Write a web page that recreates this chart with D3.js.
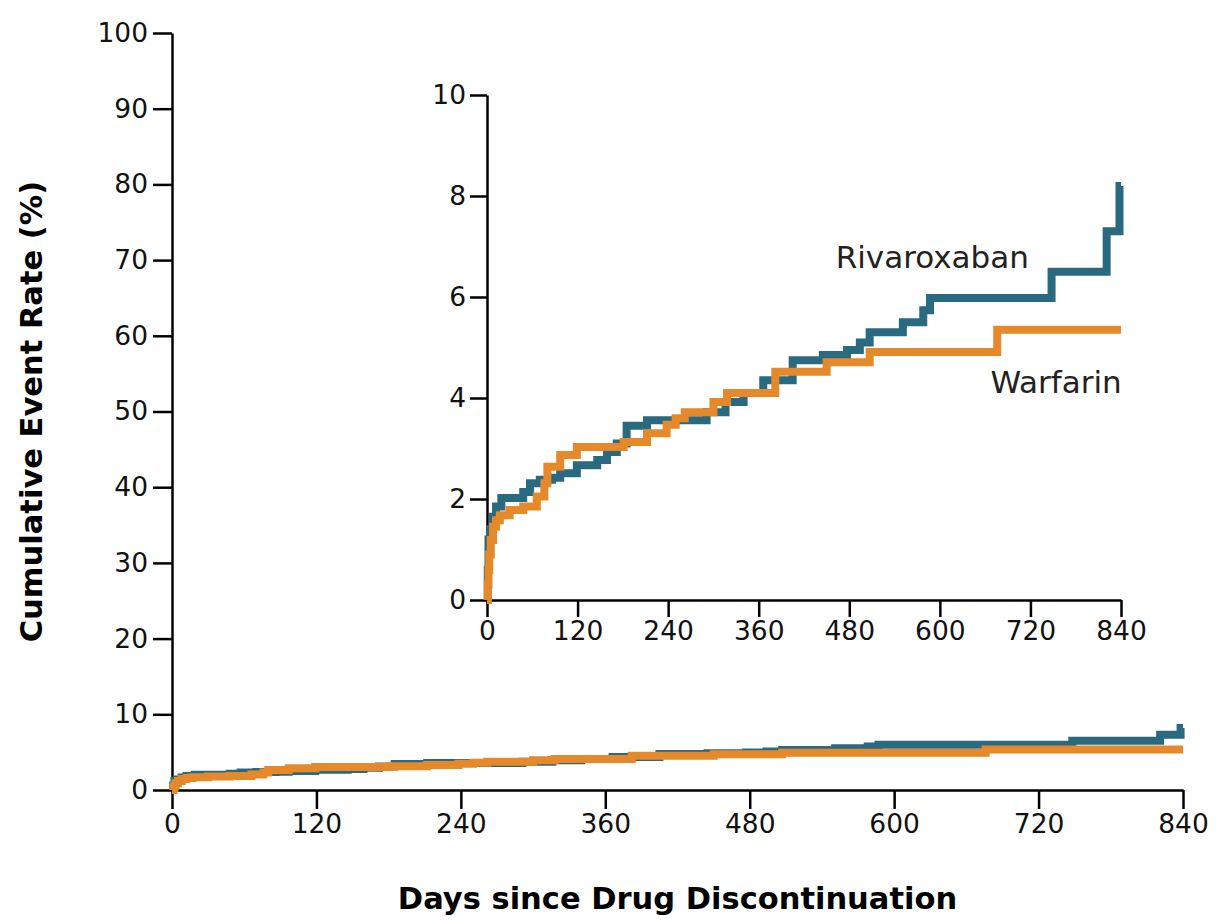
<!DOCTYPE html>
<html>
  <head>
    <meta charset="utf-8" />
    <title>Cumulative Event Rate after Drug Discontinuation</title>
    <style>
      body { margin: 0; background: #fff; }
      .axis path, .axis line { stroke: #000; stroke-width: 2.5px; }
      .axis text { font-family: "DejaVu Sans", sans-serif; font-size: 26.5px; fill: #111; }
      .curve { fill: none; stroke-width: 8px; }
      .title { font-family: "DejaVu Sans", sans-serif; font-weight: bold; font-size: 30.5px; fill: #000; }
      .label { font-family: "DejaVu Sans", sans-serif; font-size: 31px; fill: #222; }
    </style>
  </head>
  <body>
    <svg id="chart" width="1216" height="920"></svg>
    <script src="https://d3js.org/d3.v7.min.js"></script>
    <script>
      // Kaplan-Meier style step data (day of change, cumulative %)
      var rivaroxabanDays = [0, 1, 2, 4, 8, 12, 19, 48, 57, 70, 86, 97, 119, 146, 159, 172, 185, 212, 291, 316, 340, 366, 405, 445, 477, 494, 507, 551, 578, 587, 748, 821, 838, 840];
      var rivaroxabanRate = [0, 0.6, 1.2, 1.4, 1.65, 1.85, 2.02, 2.14, 2.31, 2.38, 2.42, 2.51, 2.67, 2.77, 2.93, 3.1, 3.45, 3.56, 3.72, 3.92, 4.1, 4.35, 4.75, 4.85, 4.95, 5.1, 5.3, 5.5, 5.74, 5.98, 6.5, 7.3, 8.2, 8.2];

      var warfarinDays = [0, 1, 2, 3, 5, 8, 12, 17, 30, 48, 66, 76, 80, 97, 119, 181, 212, 238, 250, 262, 300, 318, 382, 450, 507, 676, 840];
      var warfarinRate = [0, 0.3, 0.6, 0.9, 1.19, 1.45, 1.58, 1.68, 1.78, 1.85, 2.05, 2.31, 2.64, 2.87, 3.03, 3.13, 3.3, 3.47, 3.6, 3.72, 3.92, 4.1, 4.52, 4.71, 4.91, 5.35, 5.35];

      var xTicks = [0, 120, 240, 360, 480, 600, 720, 840];
      var mainYTicks = [0, 10, 20, 30, 40, 50, 60, 70, 80, 90, 100];
      var insetYTicks = [0, 2, 4, 6, 8, 10];

      var seriesNames = ["Rivaroxaban", "Warfarin"];
      var seriesColors = ["#2a6a80", "#e5892a"];

      var series = [
        { id: seriesNames[0], color: seriesColors[0], values: rivaroxabanDays.map(function(d, i) { return { day: d, rate: rivaroxabanRate[i] }; }) },
        { id: seriesNames[1], color: seriesColors[1], values: warfarinDays.map(function(d, i) { return { day: d, rate: warfarinRate[i] }; }) }
      ];

      var svg = d3.select("#chart");

      function drawPanel(xr, yr, yMax, yTicks, tickSize, pad) {
        var x = d3.scaleLinear().domain([0, 840]).range(xr);
        var y = d3.scaleLinear().domain([0, yMax]).range(yr);
        var g = svg.append("g");

        g.append("g")
          .attr("class", "axis")
          .attr("transform", "translate(0," + yr[0] + ")")
          .call(d3.axisBottom(x).tickValues(xTicks).tickSize(tickSize).tickPadding(pad).tickSizeOuter(0));

        g.append("g")
          .attr("class", "axis")
          .attr("transform", "translate(" + xr[0] + ",0)")
          .call(d3.axisLeft(y).tickValues(yTicks).tickSize(tickSize).tickPadding(pad).tickSizeOuter(0));

        var line = d3.line()
          .curve(d3.curveStepAfter)
          .x(function(d) { return x(d.day); })
          .y(function(d) { return y(d.rate); });

        g.selectAll(".curve").data(series).enter()
          .append("path")
          .attr("class", "curve")
          .attr("stroke", function(d) { return d.color; })
          .attr("d", function(d) { return line(d.values); });

        return { x: x, y: y, g: g };
      }

      // main chart
      var main = drawPanel([172, 1183], [790, 33], 100, mainYTicks, 19, 5);
      // inset
      var inset = drawPanel([487, 1121], [600, 95], 10, insetYTicks, 17, 4);

      inset.g.append("text").attr("class", "label")
        .attr("x", inset.x(462)).attr("y", inset.y(6.58))
        .text(seriesNames[0]);
      inset.g.append("text").attr("class", "label")
        .attr("x", inset.x(667)).attr("y", inset.y(4.1))
        .text(seriesNames[1]);

      svg.append("text").attr("class", "title")
        .attr("x", (172 + 1183) / 2).attr("y", 909)
        .attr("text-anchor", "middle")
        .text("Days since Drug Discontinuation");

      svg.append("text").attr("class", "title")
        .attr("transform", "translate(42," + ((790 + 33) / 2) + ") rotate(-90)")
        .attr("text-anchor", "middle")
        .text("Cumulative Event Rate (%)");
    </script>
  </body>
</html>
